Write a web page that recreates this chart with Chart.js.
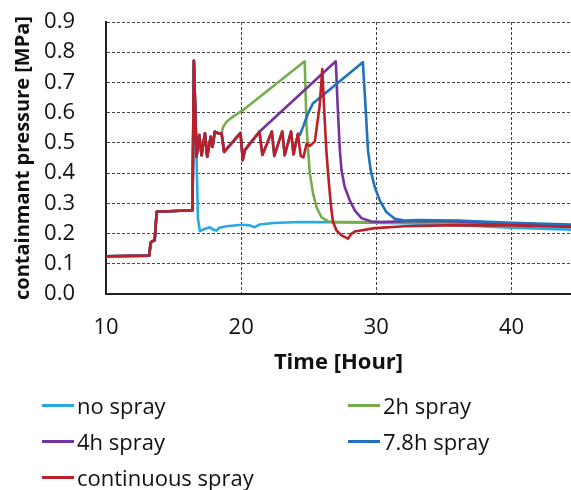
<!DOCTYPE html>
<html>
<head>
<meta charset="utf-8">
<script src="https://cdn.jsdelivr.net/npm/chart.js@4/dist/chart.umd.min.js"></script>
<style>
  body { margin: 0; background: #fff; }
  #wrap { position: relative; width: 571px; height: 490px; }
  #legend { position: absolute; left: 0; top: 0; width: 571px; height: 490px; pointer-events: none;
            font-family: "Open Sans", sans-serif; font-size: 22px; color: #111; }
  .item { position: absolute; display: flex; align-items: center; white-space: nowrap; }
  .swatch { width: 32px; height: 3px; margin-right: 3px; }
</style>
</head>
<body>
<div id="wrap">
  <canvas id="c" width="571" height="490"></canvas>
  <div id="legend"></div>
</div>
<script>
// Data

const seriesNames = ["no spray", "2h spray", "4h spray", "7.8h spray", "continuous spray"];
const seriesColors = ["#29a9e1", "#76ad4c", "#7334a0", "#1f72bb", "#bc1f27"];

const xTicks = [10, 20, 30, 40];
const yTicks = [0, 0.1, 0.2, 0.3, 0.4, 0.5, 0.6, 0.7, 0.8, 0.9];

// common start of every run, up to the pressure spike
const riseX = [10, 13.2, 13.3, 13.45, 13.6, 13.75, 16.4, 16.5];
const riseY = [0.125, 0.127, 0.17, 0.175, 0.178, 0.272, 0.277, 0.772];

// oscillation shared by the spray runs until each one splits off
const oscX = [16.7, 16.9, 17.07, 17.32, 17.49, 17.74, 17.88, 18.05, 18.3, 18.55, 18.74, 19.95, 20.12, 20.27, 21.35, 21.57, 22.27, 22.45, 23.04, 23.22, 23.69, 23.87, 24.2];
const oscY = [0.454, 0.526, 0.459, 0.532, 0.454, 0.52, 0.487, 0.537, 0.532, 0.532, 0.47, 0.533, 0.443, 0.476, 0.537, 0.46, 0.538, 0.457, 0.538, 0.459, 0.538, 0.462, 0.53];

// hour where each run leaves the shared oscillation
const split2h = 18.55;
const split4h = 21.35;
const split78h = 24.2;

const noSprayX = [16.6, 16.7, 16.8, 16.95, 17.32, 17.69, 17.93, 18.18, 18.37, 18.92, 20.03, 20.64, 21.0, 21.38, 22.36, 24.34, 28.0, 32, 36, 40, 44.4];
const noSprayY = [0.55, 0.45, 0.25, 0.208, 0.216, 0.221, 0.213, 0.21, 0.219, 0.224, 0.229, 0.227, 0.221, 0.23, 0.235, 0.238, 0.237, 0.234, 0.228, 0.219, 0.213];

const spray2hX = [18.67, 18.92, 19.4, 20.15, 24.7, 24.83, 24.95, 25.08, 25.32, 25.57, 25.94, 26.43, 27.17, 30, 34, 40, 44.4];
const spray2hY = [0.553, 0.57, 0.587, 0.609, 0.77, 0.56, 0.476, 0.399, 0.332, 0.288, 0.254, 0.24, 0.238, 0.238, 0.237, 0.231, 0.225];

const spray4hX = [27.0, 27.12, 27.3, 27.42, 27.66, 28.03, 28.4, 28.9, 29.63, 30.37, 33, 36, 40, 44.4];
const spray4hY = [0.77, 0.64, 0.476, 0.41, 0.354, 0.31, 0.277, 0.251, 0.24, 0.238, 0.242, 0.24, 0.233, 0.227];

const spray78hX = [24.34, 24.58, 24.95, 25.3, 29.0, 29.2, 29.38, 29.58, 29.88, 30.25, 30.74, 31.36, 32.1, 33, 36, 40, 44.4];
const spray78hY = [0.526, 0.553, 0.598, 0.63, 0.767, 0.62, 0.476, 0.41, 0.354, 0.31, 0.271, 0.249, 0.243, 0.245, 0.243, 0.236, 0.23];

const contX = [24.4, 24.6, 24.85, 25.07, 25.45, 25.8, 26.0, 26.15, 26.3, 26.43, 26.56, 26.68, 26.8, 27.05, 27.42, 27.9, 28.15, 28.4, 29.88, 32.1, 36, 40, 44.4];
const contY = [0.457, 0.452, 0.498, 0.49, 0.505, 0.62, 0.744, 0.6, 0.476, 0.399, 0.332, 0.277, 0.238, 0.21, 0.194, 0.183, 0.199, 0.207, 0.218, 0.224, 0.228, 0.227, 0.222];

function toPoints(xs, ys) {
    return xs.map((x, j) => ({x: x, y: ys[j]}));
}
function oscUntil(h) {
    return toPoints(oscX, oscY).filter(p => p.x <= h);
}
const rise = toPoints(riseX, riseY);

const seriesData = [
    rise.concat(toPoints(noSprayX, noSprayY)),
    rise.concat(oscUntil(split2h), toPoints(spray2hX, spray2hY)),
    rise.concat(oscUntil(split4h), toPoints(spray4hX, spray4hY)),
    rise.concat(oscUntil(split78h), toPoints(spray78hX, spray78hY)),
    rise.concat(oscUntil(99), toPoints(contX, contY))
];
// draw order: continuous on top, then 7.8h, 4h, 2h, no spray
const drawOrder = [5, 4, 3, 2, 1];

const font = "'Open Sans', sans-serif";

const datasets = seriesNames.map((name, i) => ({
    label: name,
    data: seriesData[i],
    borderColor: seriesColors[i],
    backgroundColor: seriesColors[i],
    borderWidth: 2.6,
    borderJoinStyle: "round",
    pointRadius: 0,
    tension: 0,
    order: drawOrder[i]
}));

new Chart(document.querySelector("#c").getContext("2d"), {
    type: "line",
    data: { datasets: datasets },
    options: {
        responsive: false,
        animation: false,
        layout: { padding: { top: 22, right: 0, bottom: 114, left: 0 } },
        plugins: { legend: { display: false }, tooltip: { enabled: false } },
        scales: {
            x: {
                type: "linear",
                min: 10,
                max: 44.4,
                afterBuildTicks: (s) => { s.ticks = xTicks.map(v => ({value: v})); },
                afterFit: (s) => { s.height = 82; },
                ticks: { padding: 21, color: "#111", autoSkip: false, font: { family: font, size: 22 } },
                grid: { drawTicks: false, color: "#444", lineWidth: 1 },
                border: { display: true, color: "#222", width: 2, dash: [3, 2] },
                title: { display: true, text: "Time [Hour]", color: "#111", padding: { top: 0, bottom: 0 },
                         font: { family: font, size: 22, weight: "bold" } }
            },
            y: {
                min: 0,
                max: 0.9,
                afterBuildTicks: (s) => { s.ticks = yTicks.map(v => ({value: v})); },
                // fixed axis width; drop the extra top/bottom room the wide tick padding asks for
                afterFit: (s) => { s.width = 106; s.paddingTop = 0; s.paddingBottom = 0; },
                ticks: { padding: 31, color: "#111", autoSkip: false, font: { family: font, size: 22 },
                         callback: (v) => v.toFixed(1) },
                grid: { drawTicks: false, color: "#444", lineWidth: 1 },
                border: { display: true, color: "#222", width: 2, dash: [3, 2] },
                title: { display: true, text: "containmant pressure [MPa]", color: "#111",
                         padding: { top: 11, bottom: 0 },
                         font: { family: font, size: 20, weight: "bold" } }
            }
        }
    }
});

// legend in two columns below the chart
const legendPos = [[42, 405], [348, 405], [42, 441], [348, 441], [42, 477]];
const legend = document.querySelector("#legend");
seriesNames.forEach((name, i) => {
    const el = document.createElement("div");
    el.className = "item";
    el.style.left = legendPos[i][0] + "px";
    el.style.top = (legendPos[i][1] - 15) + "px";
    el.style.height = "30px";
    el.innerHTML = '<span class="swatch" style="background:' + seriesColors[i] + '"></span><span>' + name + '</span>';
    legend.appendChild(el);
});
</script>
</body>
</html>
